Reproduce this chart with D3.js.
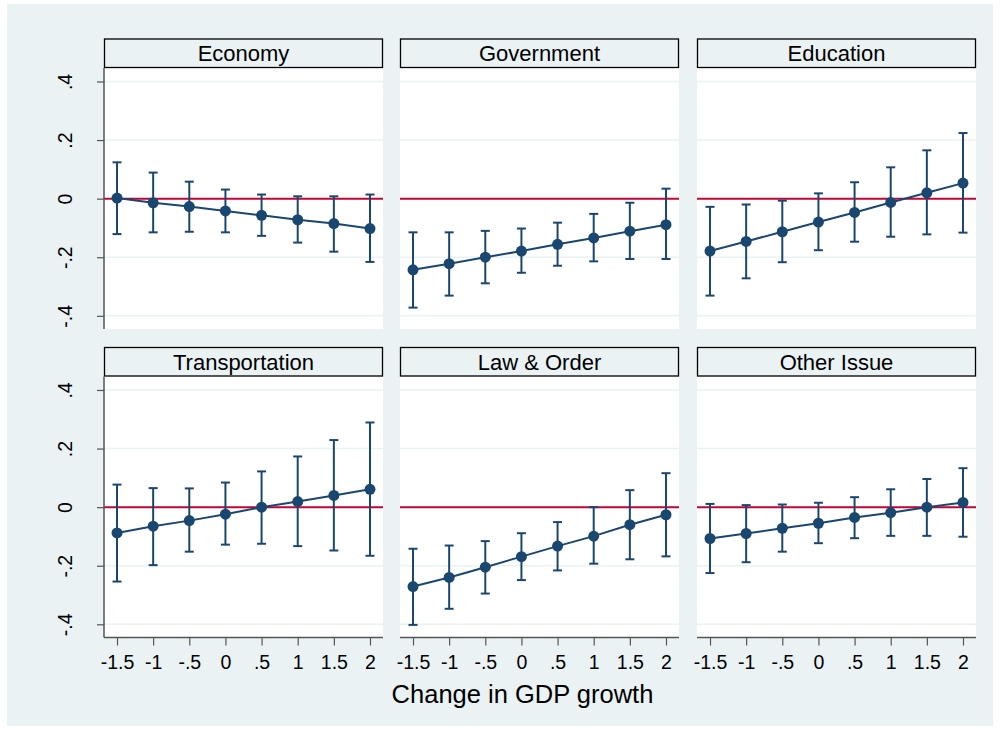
<!DOCTYPE html>
<html>
<head>
<meta charset="utf-8">
<script src="https://cdn.jsdelivr.net/npm/d3@7"></script>
<style>
  html, body { margin: 0; padding: 0; background: #ffffff; }
  svg { display: block; font-family: "Liberation Sans", Arial, sans-serif; }
</style>
</head>
<body>
<svg id="chart" width="1000" height="729"></svg>
<script>
// Marginal effects of GDP growth change, by issue area
const issues = ["Economy", "Government", "Education", "Transportation", "Law & Order", "Other Issue"];
const gdpChange = [-1.5, -1, -0.5, 0, 0.5, 1, 1.5, 2];
const xTicks = [-1.5, -1, -0.5, 0, 0.5, 1, 1.5, 2];
const xTickLabels = ["-1.5", "-1", "-.5", "0", ".5", "1", "1.5", "2"];
const yTicks = [-0.4, -0.2, 0, 0.2, 0.4];
const yTickLabels = ["-.4", "-.2", "0", ".2", ".4"];

const estEconomy   = [0.002, -0.014, -0.027, -0.042, -0.057, -0.072, -0.085, -0.102];
const hiEconomy    = [0.124, 0.089, 0.058, 0.031, 0.014, 0.008, 0.008, 0.014];
const loEconomy    = [-0.121, -0.115, -0.113, -0.115, -0.127, -0.150, -0.181, -0.216];

const estGovernment = [-0.243, -0.222, -0.200, -0.179, -0.156, -0.134, -0.111, -0.089];
const hiGovernment  = [-0.115, -0.115, -0.110, -0.102, -0.082, -0.052, -0.014, 0.034];
const loGovernment  = [-0.372, -0.331, -0.289, -0.253, -0.229, -0.214, -0.206, -0.206];

const estEducation = [-0.179, -0.146, -0.113, -0.080, -0.047, -0.013, 0.020, 0.053];
const hiEducation  = [-0.028, -0.020, -0.007, 0.018, 0.056, 0.107, 0.165, 0.224];
const loEducation  = [-0.331, -0.272, -0.217, -0.176, -0.147, -0.130, -0.122, -0.116];

const estTransport = [-0.088, -0.065, -0.046, -0.024, 0.000, 0.019, 0.040, 0.061];
const hiTransport  = [0.077, 0.065, 0.064, 0.084, 0.122, 0.173, 0.229, 0.289];
const loTransport  = [-0.254, -0.198, -0.152, -0.128, -0.125, -0.133, -0.148, -0.166];

const estLawOrder = [-0.271, -0.240, -0.205, -0.169, -0.133, -0.099, -0.060, -0.026];
const hiLawOrder  = [-0.142, -0.131, -0.116, -0.089, -0.051, 0.000, 0.058, 0.116];
const loLawOrder  = [-0.402, -0.347, -0.295, -0.249, -0.216, -0.193, -0.178, -0.168];

const estOther = [-0.107, -0.090, -0.072, -0.055, -0.035, -0.019, 0.000, 0.016];
const hiOther  = [0.011, 0.007, 0.009, 0.015, 0.034, 0.061, 0.096, 0.133];
const loOther  = [-0.225, -0.188, -0.152, -0.123, -0.106, -0.098, -0.098, -0.101];

const estimates = [estEconomy, estGovernment, estEducation, estTransport, estLawOrder, estOther];
const upper = [hiEconomy, hiGovernment, hiEducation, hiTransport, hiLawOrder, hiOther];
const lower = [loEconomy, loGovernment, loEducation, loTransport, loLawOrder, loOther];

const svg = d3.select("#chart");
const BG = "#eaf2f3";
const NAVY = "#1a476f";
const RED = "#c10534";

svg.append("rect").attr("x", 7).attr("y", 4).attr("width", 986).attr("height", 722).attr("fill", BG);

const colLeft = [104, 400, 697];
const panelW = 279;
const rowTop = [38.5, 347];   // strip header top
const stripH = 29.5;
const plotH = 261;

const xDomain = [-1.68, 2.18];
const yDomain = [-0.445, 0.446];

issues.forEach((name, i) => {
  const col = i % 3, row = Math.floor(i / 3);
  const x0 = colLeft[col];
  const top = rowTop[row] + stripH;
  const x = d3.scaleLinear().domain(xDomain).range([x0, x0 + panelW]);
  const y = d3.scaleLinear().domain(yDomain).range([top + plotH, top]);
  const g = svg.append("g");

  // plot region
  g.append("rect").attr("x", x0).attr("y", top).attr("width", panelW).attr("height", plotH).attr("fill", "#ffffff");

  // horizontal grid
  g.selectAll(".grid").data(yTicks.filter(v => v !== 0)).enter().append("line")
    .attr("x1", x0).attr("x2", x0 + panelW)
    .attr("y1", d => y(d)).attr("y2", d => y(d))
    .attr("stroke", BG).attr("stroke-width", 1.6);

  // strip header
  g.append("rect").attr("x", x0 + 0.5).attr("y", rowTop[row] + 0.5)
    .attr("width", panelW - 1).attr("height", stripH - 1)
    .attr("fill", BG).attr("stroke", "#000").attr("stroke-width", 1.3);
  g.append("text").attr("x", x0 + panelW / 2).attr("y", rowTop[row] + stripH / 2 + 8)
    .attr("text-anchor", "middle").attr("font-size", 22).attr("fill", "#000").text(name);

  // zero reference line
  g.append("line").attr("x1", x0).attr("x2", x0 + panelW)
    .attr("y1", y(0)).attr("y2", y(0)).attr("stroke", RED).attr("stroke-width", 2);

  // y axis (left column)
  if (col === 0) {
    const ya = g.append("g").attr("transform", `translate(${x0},0)`)
      .call(d3.axisLeft(y).tickValues(yTicks).tickSize(7).tickFormat((d, k) => yTickLabels[k]));
    ya.select(".domain").attr("stroke", "#555").attr("stroke-width", 1.5).attr("d", `M0,${top}V${top + plotH}`);
    ya.selectAll(".tick line").attr("stroke", "#555").attr("stroke-width", 1.2);
    ya.selectAll(".tick text").attr("font-size", 19.5).attr("fill", "#000")
      .attr("x", 0).attr("dy", 0)
      .attr("transform", "translate(-32,0) rotate(-90)")
      .attr("text-anchor", "middle");
  }

  // x axis (bottom row)
  if (row === 1) {
    const xa = g.append("g").attr("transform", `translate(0,${top + plotH})`)
      .call(d3.axisBottom(x).tickValues(xTicks).tickSize(8).tickFormat((d, k) => xTickLabels[k]));
    xa.select(".domain").attr("stroke", "#555").attr("stroke-width", 1.5).attr("d", `M${x0},0H${x0 + panelW}`);
    xa.selectAll(".tick line").attr("stroke", "#555").attr("stroke-width", 1.2);
    xa.selectAll(".tick text").attr("font-size", 19.5).attr("fill", "#000").attr("y", 18);
  }

  // confidence intervals
  const pts = gdpChange.map((v, k) => ({ x: v, est: estimates[i][k], hi: upper[i][k], lo: lower[i][k] }));
  const ci = g.append("g").attr("stroke", NAVY).attr("stroke-width", 2);
  ci.selectAll(".bar").data(pts).enter().append("line")
    .attr("x1", d => x(d.x)).attr("x2", d => x(d.x))
    .attr("y1", d => y(d.hi)).attr("y2", d => y(d.lo));
  ci.selectAll(".capHi").data(pts).enter().append("line")
    .attr("x1", d => x(d.x) - 4.5).attr("x2", d => x(d.x) + 4.5)
    .attr("y1", d => y(d.hi)).attr("y2", d => y(d.hi));
  ci.selectAll(".capLo").data(pts).enter().append("line")
    .attr("x1", d => x(d.x) - 4.5).attr("x2", d => x(d.x) + 4.5)
    .attr("y1", d => y(d.lo)).attr("y2", d => y(d.lo));

  // point estimates and connecting line
  g.append("path").datum(pts)
    .attr("d", d3.line().x(d => x(d.x)).y(d => y(d.est)))
    .attr("fill", "none").attr("stroke", NAVY).attr("stroke-width", 2);
  g.selectAll(".pt").data(pts).enter().append("circle")
    .attr("cx", d => x(d.x)).attr("cy", d => y(d.est)).attr("r", 5.5).attr("fill", NAVY);
});

// x axis title
svg.append("text").attr("x", 522.5).attr("y", 702.5).attr("text-anchor", "middle")
  .attr("font-size", 25.5).attr("fill", "#000").text("Change in GDP growth");
</script>
</body>
</html>
